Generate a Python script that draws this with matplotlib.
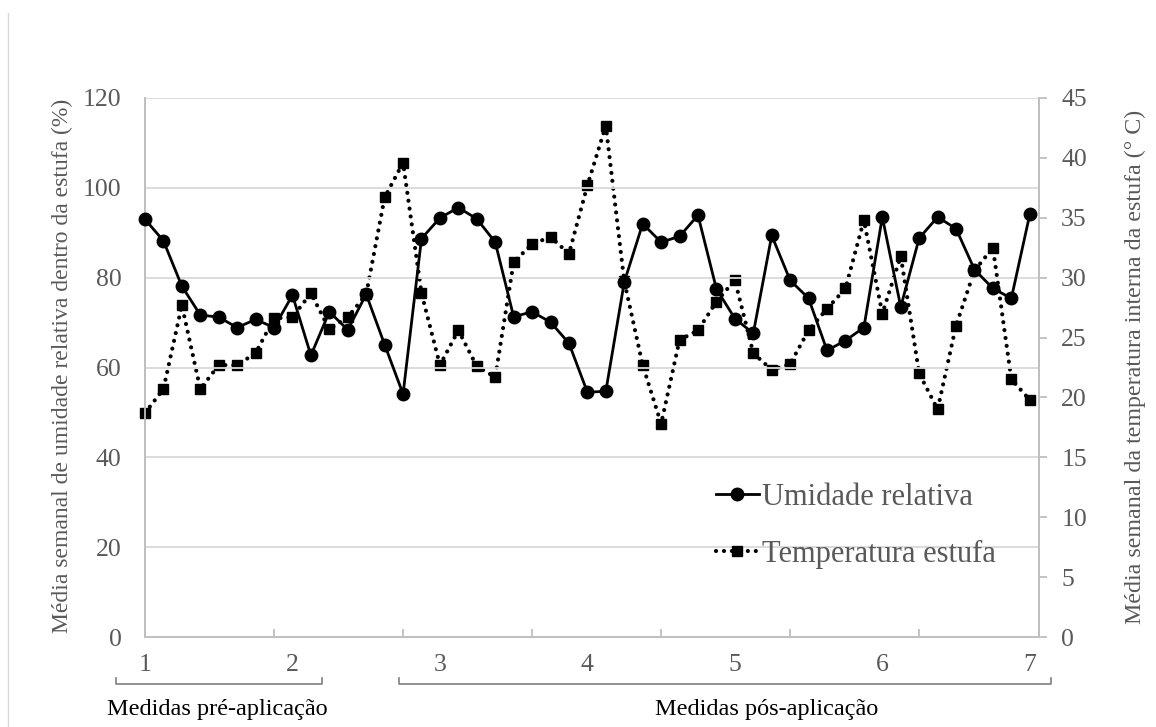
import matplotlib
matplotlib.use("Agg")
import matplotlib.pyplot as plt
from matplotlib.lines import Line2D
import numpy as np

# ---- data ----
umidade = [93, 88.2, 78.1, 71.7, 71.2, 68.9, 70.7, 68.9, 76.1, 62.7, 72.4, 68.4, 76.3,
           65.1, 54.1, 88.7, 93.3, 95.6, 93.1, 87.9, 71.3, 72.4, 70.1, 65.4, 54.5,
           54.7, 79.0, 92.0, 87.9, 89.2, 93.9, 77.5, 70.9, 67.6, 89.4, 79.4, 75.4,
           63.8, 66.0, 68.9, 93.5, 73.5, 88.8, 93.5, 90.9, 81.8, 77.6, 75.4, 94.1]
temperatura = [18.7, 20.7, 27.7, 20.7, 22.7, 22.7, 23.7, 26.6, 26.7, 28.7, 25.7, 26.7, 28.6,
               36.7, 39.6, 28.7, 22.7, 25.6, 22.6, 21.7, 31.3, 32.8, 33.4, 32.0, 37.7,
               42.7, 29.7, 22.7, 17.8, 24.8, 25.6, 28.0, 29.8, 23.7, 22.3, 22.8, 25.6,
               27.4, 29.1, 34.8, 27.0, 31.8, 22.0, 19.0, 26.0, 30.6, 32.5, 21.5, 19.8]
semana_labels = ["1", "2", "3", "4", "5", "6", "7"]
left_ticks = [0, 20, 40, 60, 80, 100, 120]
right_ticks = [0, 5, 10, 15, 20, 25, 30, 35, 40, 45]
serie_names = ["Umidade relativa", "Temperatura estufa"]
ylabel_left = "Média semanal de umidade relativa dentro da estufa (%)"
ylabel_right = "Média semanal da temperatura interna da estufa (° C)"
grupo_labels = ["Medidas pré-aplicação", "Medidas pós-aplicação"]

# ---- style ----
W, H = 1156, 727
FONT = "Liberation Serif"
TXT = "#595959"
GRID = "#d9d9d9"
SPINE = "#bfbfbf"
plt.rcParams["font.family"] = [FONT, "DejaVu Serif"]

fig = plt.figure(figsize=(W / 100, H / 100), dpi=100)
ax = fig.add_axes([145 / W, 1 - 637 / H, (1039 - 145) / W, (637 - 98) / H])
ax2 = ax.twinx()

x = np.arange(len(umidade))

l2, = ax2.plot(x, temperatura, color="black", lw=3.0, linestyle=(0, (0.01, 1.9)),
               dash_capstyle="round", marker="s", markersize=7.5, zorder=3,
               clip_on=False)
l1, = ax.plot(x, umidade, color="black", lw=2.0, marker="o", markersize=9,
              zorder=4, clip_on=False)

ax.set_zorder(ax2.get_zorder() + 1)
ax.patch.set_visible(False)

ax.set_xlim(0, 48.5)
ax.set_ylim(0, 120)
ax2.set_ylim(0, 45)

ax.set_yticks(left_ticks)
ax.set_yticklabels([str(t) for t in left_ticks])
ax2.set_yticks(right_ticks)
ax2.set_yticklabels([str(t) for t in right_ticks])

ax.set_xticks(np.arange(0, 49, 8))
ax.set_xticklabels(semana_labels)
ax.set_xticks(np.arange(7, 43, 7), minor=True)

ax.grid(axis="y", color=GRID, lw=1.3)
ax.set_axisbelow(True)

for a in (ax, ax2):
    for s in a.spines.values():
        s.set_color(SPINE)
        s.set_linewidth(1.3)
    a.spines["top"].set_visible(False)

ax.tick_params(axis="y", length=0, pad=17, labelsize=18.5, labelcolor=TXT)
ax.tick_params(axis="x", which="major", length=0, pad=12, labelsize=18.5, labelcolor=TXT)
ax.tick_params(axis="x", which="minor", direction="in", length=6, width=1.3, color=SPINE)
ax2.tick_params(axis="y", length=6, width=1.3, color=SPINE, pad=10,
                labelsize=18.5, labelcolor=TXT)

fig.text(62 / W, 1 - 366 / H, ylabel_left, rotation=90, ha="center", va="center",
         fontsize=17.0, color=TXT)
fig.text(1135 / W, 1 - 367 / H, ylabel_right, rotation=90, ha="center", va="center",
         fontsize=17.3, color=TXT)

leg = ax.legend([l1, l2], serie_names, loc="upper left",
                bbox_to_anchor=(716 / W, 1 - 483 / H), bbox_transform=fig.transFigure,
                frameon=False, fontsize=22, handlelength=1.4, handletextpad=0.1,
                labelspacing=0.9, borderpad=0, borderaxespad=0)
for t in leg.get_texts():
    t.set_color(TXT)

# brackets grouping the weeks
def bracket(x0, x1, y_top, y_bot):
    xs = [x0, x0, x1, x1]
    ys = [y_top, y_bot, y_bot, y_top]
    fig.add_artist(Line2D([v / W for v in xs], [1 - v / H for v in ys],
                          color="#7f7f7f", lw=1.2, transform=fig.transFigure))

bracket(116, 322, 678, 684)
bracket(399, 1051, 678, 684)
fig.text(217 / W, 1 - 710 / H, grupo_labels[0], ha="center", va="center",
         fontsize=17.5, color="black")
fig.text(767 / W, 1 - 710 / H, grupo_labels[1], ha="center", va="center",
         fontsize=17.5, color="black")

# faint chart-area border on the left
fig.add_artist(Line2D([8 / W, 8 / W], [1 - 13 / H, 0], color="#d9d9d9", lw=1,
                      transform=fig.transFigure))

fig.savefig("out.png", dpi=100)
